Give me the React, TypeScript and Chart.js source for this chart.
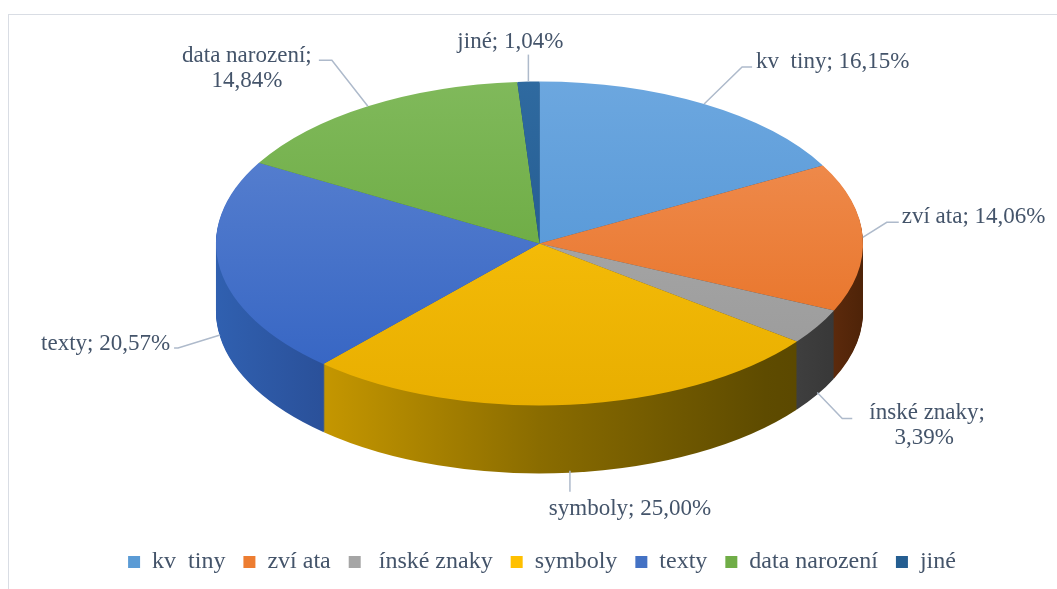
import React, { useEffect, useRef } from 'react';
import { Chart, registerables } from 'chart.js';

Chart.register(...registerables);

// ---- data ----
const categories = ['kv  tiny', 'zví ata', ' ínské znaky', 'symboly', 'texty', 'data narození', 'jiné'];
const shares = [16.15, 14.06, 3.39, 25.0, 20.57, 14.84, 1.04];

// ---- styles ----
const BASE_COLORS = ['#5b9bd5', '#ed7d31', '#a5a5a5', '#ffc000', '#4472c4', '#70ad47', '#255e91'];
const TOP_COLORS: [string, string][] = [
  ['#6ca7df', '#4a8fd3'],
  ['#f1935a', '#e66c1c'],
  ['#b0b0b0', '#989898'],
  ['#ffc70f', '#e8ae00'],
  ['#5f86d2', '#3262c2'],
  ['#80b95b', '#5fa232'],
  ['#2f6aa0', '#1d5286'],
];
const WALL_STOPS: [number, string][][] = [
  [[0, '#3a6ea8'], [1, '#22476e']],
  [[0, '#b05a20'], [0.88, '#723512'], [1, '#4e2308']],
  [[0, '#707070'], [0.85, '#444444'], [1, '#333333']],
  [[0, '#d8a600'], [0.17, '#c49600'], [0.5, '#8a6c00'], [0.85, '#5e4b00'], [1, '#564400']],
  [[0, '#3060b0'], [0.17, '#2a5099'], [1, '#1e3a70']],
  [[0, '#4f8a2e'], [1, '#35601e']],
  [[0, '#1d4a75'], [1, '#153858']],
];
const TEXT_COLOR = '#44546a';
const LINE_COLOR = '#aebacb';
const FONT_FAMILY = '"Liberation Serif", "Times New Roman", serif';

// plot geometry (3D pie ellipse)
const PIE = { cx: 539.5, cy: 243.5, rx: 323.5, ry: 162, depth: 68 };

// label leader layout, relative to each slice's anchor point
type LabelLayout = { elbow: [number, number]; tail: number; align: CanvasTextAlign; text: [number, number]; split?: boolean };
const LABEL_LAYOUT: LabelLayout[] = [
  { elbow: [38, -37], tail: 10, align: 'left', text: [52, -42] },
  { elbow: [24, -15], tail: 12, align: 'left', text: [39, -20] },
  { elbow: [25, 26], tail: 10, align: 'center', text: [107, 33], split: true },
  { elbow: [0, 21], tail: 0, align: 'center', text: [60, 38] },
  { elbow: [-42, 13], tail: -4, align: 'right', text: [-50, 9] },
  { elbow: [-36, -46], tail: -13, align: 'center', text: [-121, -38], split: true },
  { elbow: [0, -27], tail: 0, align: 'center', text: [-18, -40] },
];

const fmt = (v: number) => v.toFixed(2).replace('.', ',') + '%';

const pie3d = {
  id: 'pie3d',
  beforeDatasetsDraw(chart: any) {
    const arcs = chart.getDatasetMeta(0).data;
    if (!arcs.length) return;
    const ctx: CanvasRenderingContext2D = chart.ctx;
    const ax = arcs[0].x;
    const ay = arcs[0].y;
    const r = arcs[0].outerRadius;
    const k = PIE.ry / r;
    ctx.save();
    ctx.translate(PIE.cx, PIE.cy);
    ctx.scale(1, k);
    ctx.translate(-ax, -ay);
    const grads = arcs.map((_a: any, i: number) => {
      const g = ctx.createLinearGradient(ax - r, 0, ax + r, 0);
      WALL_STOPS[i].forEach(([t, c]) => g.addColorStop(t, c));
      return g;
    });
    for (let d = PIE.depth; d >= 1; d -= 1) {
      const off = d / k;
      arcs.forEach((a: any, i: number) => {
        const o = a.options;
        const y0 = a.y;
        a.options = { ...o, backgroundColor: grads[i], borderColor: grads[i], borderWidth: 0 };
        a.y = y0 + off;
        a.draw(ctx, chart.chartArea);
        a.y = y0;
        a.options = o;
      });
    }
  },
  afterDatasetsDraw(chart: any) {
    const ctx: CanvasRenderingContext2D = chart.ctx;
    ctx.restore();
    const arcs = chart.getDatasetMeta(0).data;
    ctx.save();
    ctx.font = `23px ${FONT_FAMILY}`;
    ctx.fillStyle = TEXT_COLOR;
    ctx.strokeStyle = LINE_COLOR;
    ctx.lineWidth = 1.5;
    ctx.textBaseline = 'middle';
    arcs.forEach((a: any, i: number) => {
      const mid = (a.startAngle + a.endAngle) / 2;
      const s = Math.sin(mid);
      const c = Math.cos(mid);
      const px = PIE.cx + PIE.rx * c;
      let py = PIE.cy + PIE.ry * s;
      if (s > 0.05) py += PIE.depth * 0.97;
      const L = LABEL_LAYOUT[i];
      const ex = px + L.elbow[0];
      const ey = py + L.elbow[1];
      ctx.beginPath();
      ctx.moveTo(px, py);
      ctx.lineTo(ex, ey);
      if (L.tail) ctx.lineTo(ex + L.tail, ey);
      ctx.stroke();
      const name = categories[i];
      const lines = L.split ? [name + ';', fmt(shares[i])] : [name + '; ' + fmt(shares[i])];
      ctx.textAlign = L.align;
      const tx = px + L.text[0];
      const ty = py + L.text[1];
      lines.forEach((ln, j) => ctx.fillText(ln, tx, ty + (j - (lines.length - 1) / 2) * 25));
    });
    ctx.restore();
  },
};

export default function App() {
  const ref = useRef<HTMLCanvasElement>(null);
  useEffect(() => {
    if (!ref.current) return;
    const chart = new Chart(ref.current, {
      type: 'pie',
      data: {
        labels: categories,
        datasets: [
          {
            data: shares,
            backgroundColor: (c: any) => {
              const i = c.dataIndex ?? 0;
              const ca = c.chart.chartArea;
              if (!ca) return BASE_COLORS[i];
              const cy = (ca.top + ca.bottom) / 2;
              const g = c.chart.ctx.createLinearGradient(0, cy - PIE.rx, 0, cy + PIE.rx);
              g.addColorStop(0, TOP_COLORS[i][0]);
              g.addColorStop(1, TOP_COLORS[i][1]);
              return g;
            },
            borderWidth: 0,
            clip: false,
          } as any,
        ],
      },
      options: {
        responsive: false,
        maintainAspectRatio: false,
        animation: false,
        events: [],
        radius: PIE.rx,
        layout: { padding: { left: 27, right: 0, top: 0, bottom: 26 } },
        plugins: {
          tooltip: { enabled: false },
          legend: {
            position: 'bottom',
            labels: {
              color: TEXT_COLOR,
              font: { family: FONT_FAMILY, size: 24 },
              boxWidth: 12,
              boxHeight: 12,
              padding: 18,
              generateLabels: (ch: any) =>
                ch.data.labels.map((t: string, i: number) => ({
                  text: t,
                  fillStyle: BASE_COLORS[i],
                  strokeStyle: BASE_COLORS[i],
                  lineWidth: 0,
                  fontColor: TEXT_COLOR,
                  hidden: false,
                  index: i,
                })),
            },
          },
        },
      } as any,
      plugins: [pie3d],
    });
    return () => chart.destroy();
  }, []);
  return (
    <div style={{ position: 'fixed', left: 0, top: 0, width: 1057, height: 589, overflow: 'hidden', background: '#fff' }}>
      <div
        style={{
          position: 'absolute',
          left: 8,
          top: 14,
          width: 1100,
          height: 600,
          border: '1px solid #d9dde4',
          boxSizing: 'border-box',
        }}
      />
      <canvas
        ref={ref}
        width={1057}
        height={610}
        style={{ position: 'absolute', left: 0, top: 0, width: 1057, height: 610 }}
      />
    </div>
  );
}
